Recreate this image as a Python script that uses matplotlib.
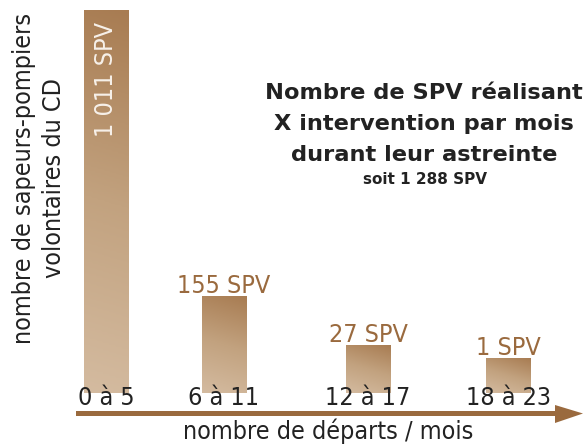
import numpy as np
import matplotlib.pyplot as plt
from matplotlib.colors import LinearSegmentedColormap

# data
categories = ['0 à 5', '6 à 11', '12 à 17', '18 à 23']
spv_counts = [1011, 155, 27, 1]
value_labels = ['1 011 SPV', '155 SPV', '27 SPV', '1 SPV']
# the bars are not drawn to scale in the original, these are their drawn heights
drawn_heights = [383, 97, 48, 35]
total_spv = '1 288'

# layout (pixel-like units)
bar_pos = [106, 224, 368, 508]
bar_w = 45

brown = '#9a6a3e'
grad = LinearSegmentedColormap.from_list('spv', ['#d4bba0', '#c2a27f', '#a87c52'])

plt.rcParams['font.family'] = ['DejaVu Sans']
plt.rcParams['font.stretch'] = 'condensed'

fig = plt.figure(figsize=(5.84, 4.45), dpi=100)
ax = fig.add_axes([0, 52 / 445, 1, 393 / 445])
ax.set_xlim(0, 584)
ax.set_ylim(0, 393)
ax.axis('off')

# gradient light bottom-left -> dark top-right, worked out in pixel units
for x, h in zip(bar_pos, drawn_heights):
    yy, xx = np.mgrid[0:h:200j, 0:bar_w:50j]
    g = (yy + 0.3 * xx) / (h + 0.3 * bar_w)
    ax.imshow(g, cmap=grad, origin='lower', aspect='auto', vmin=0, vmax=1,
              extent=[x - bar_w / 2, x + bar_w / 2, 0, h], zorder=1)

# value labels
ax.text(bar_pos[0], drawn_heights[0] - 12, value_labels[0], rotation=90,
        ha='center', va='top', color='#f7f1ea', fontsize=18, zorder=3)
for x, h, lab in zip(bar_pos[1:], drawn_heights[1:], value_labels[1:]):
    ax.text(x, h + 3, lab, ha='center', va='baseline', color=brown,
            fontsize=18, zorder=3)

# category labels, sitting over the bottom of the bars
for x, c in zip(bar_pos, categories):
    ax.text(x, -12, c, ha='center', va='baseline', color='#222222',
            fontsize=18, zorder=3, clip_on=False)

# axis arrow
pts = [[76, 411], [555, 411], [555, 405], [583, 413.5],
       [555, 423], [555, 416], [76, 416]]
fig.patches.append(plt.Polygon([[px / 584, 1 - py / 445] for px, py in pts],
                               closed=True, transform=fig.transFigure,
                               facecolor=brown, edgecolor='none'))

fig.text(328 / 584, 1 - 439 / 445, 'nombre de départs / mois', ha='center',
         va='baseline', fontsize=18, color='#222222')
fig.text(39 / 584, 1 - 178 / 445, 'nombre de sapeurs-pompiers\nvolontaires du CD',
         rotation=90, ha='center', va='center', fontsize=18, color='#222222',
         linespacing=1.3)

# title block
fig.text(424 / 584, 1 - 124 / 445,
         'Nombre de SPV réalisant\nX intervention par mois\ndurant leur astreinte',
         ha='center', va='center', fontsize=16.2, fontweight='bold',
         stretch='normal', color='#222222', linespacing=1.7)
fig.text(425 / 584, 1 - 179 / 445, 'soit ' + total_spv + ' SPV', ha='center',
         va='center', fontsize=11, fontweight='bold', stretch='normal',
         color='#222222')

fig.savefig('out.png', dpi=100)
